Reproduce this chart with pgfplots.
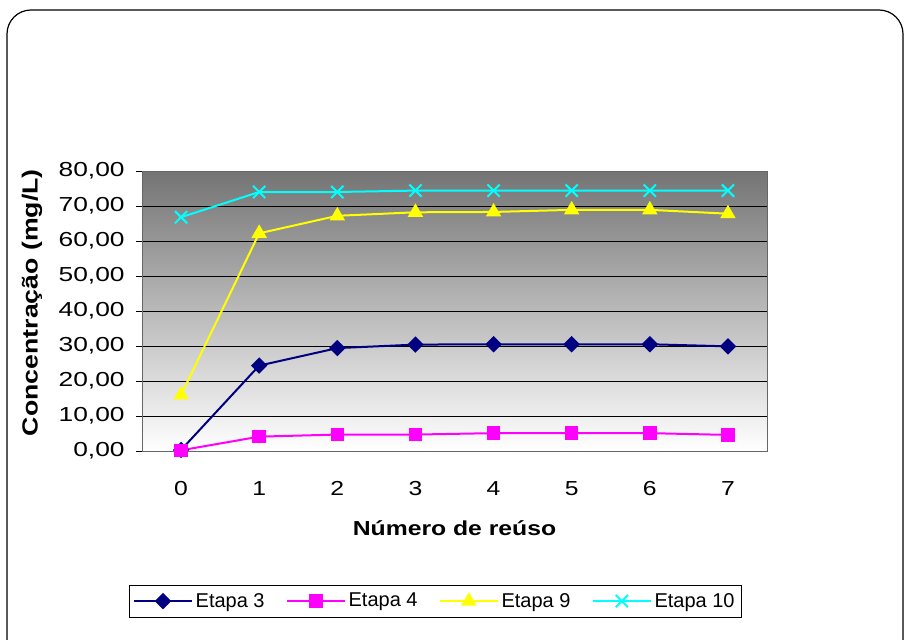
\documentclass[border=0pt]{standalone}
\usepackage{fontspec}
\setmainfont{Liberation Sans}[FakeStretch=1.22]
\newfontfamily\legfont{Liberation Sans}
\usepackage{pgfplots}
\pgfplotsset{compat=1.18}

\definecolor{etapaA}{RGB}{0,0,128}
\definecolor{etapaB}{RGB}{255,0,255}
\definecolor{etapaC}{RGB}{255,255,0}
\definecolor{etapaD}{RGB}{0,255,255}
\definecolor{bgtop}{RGB}{116,116,116}

\begin{document}
\begin{tikzpicture}
% page frame (1 px = 0.75 pt)
\useasboundingbox (0,0) rectangle (678.75pt,479.25pt);
\clip (0,0) rectangle (678.75pt,479.25pt);
\draw[line width=0.9pt, rounded corners=18pt] (5.25pt,471.75pt) rectangle (677.25pt,-20pt);

\begin{axis}[
  at={(106.5pt,141pt)}, anchor=south west,
  scale only axis, width=468.75pt, height=210pt,
  xmin=-0.5, xmax=7.5, ymin=0, ymax=80,
  ytick={0,10,...,80},
  xtick={0,...,7},
  clip=false,
  axis background/.style={shade, top color=bgtop, bottom color=white},
  axis line style={draw=black!60},
  ymajorgrids, grid style={black, line width=0.6pt},
  tick align=outside, tick pos=left,
  tick style={black, line width=0.6pt},
  major tick length=4.5pt,
  x tick style={draw=none},
  extra x ticks={-0.5,0.5,...,7.5},
  extra x tick labels={},
  extra x tick style={grid=none, major tick length=6pt, tick style={draw=black, line width=0.6pt}},
  /pgf/number format/assume math mode=true,
  font=\fontsize{15.2pt}{18pt}\selectfont,
  yticklabel style={xshift=-5pt, font=\addfontfeature{FakeStretch=1.3}\fontsize{15.2pt}{18pt}\selectfont,
    /pgf/number format/.cd, fixed, fixed zerofill, precision=2, use comma},
  xticklabel style={yshift=-15pt},
  xlabel={\bfseries Número de reúso},
  ylabel={\bfseries Concentração (mg/L)},
  xlabel style={at={(axis description cs:0.5,-0.275)}, anchor=center},
  ylabel style={at={(axis description cs:-0.176,0.53)}, anchor=center, rotate=0,
    font=\fontsize{16.4pt}{19pt}\selectfont},
  legend columns=4,
  legend style={at={(0.469,-0.536)}, anchor=center, draw=black, line width=0.6pt,
    font=\legfont\fontsize{15pt}{18pt}\selectfont,
    inner xsep=3pt, inner ysep=4pt,
    /tikz/every even column/.append style={column sep=14pt}},
  legend image code/.code={%
    \draw[mark repeat=2, mark phase=2, #1] plot coordinates {(0pt,0pt) (21.75pt,0pt) (43.5pt,0pt)};},
]
\addplot[etapaA, line width=1.5pt, mark=square*, mark size=3.6pt, mark options={rotate=45, solid}]
  coordinates {(0,0.3) (1,24.4) (2,29.4) (3,30.4) (4,30.5) (5,30.5) (6,30.5) (7,29.9)};
\addlegendentry{Etapa 3}
\addplot[etapaB, line width=1.5pt, mark=square*, mark size=4.3pt]
  coordinates {(0,0.2) (1,4.1) (2,4.7) (3,4.7) (4,5.1) (5,5.1) (6,5.1) (7,4.6)};
\addlegendentry{Etapa 4}
\addplot[etapaC, line width=1.5pt, mark=triangle*, mark size=5.2pt]
  coordinates {(0,16.0) (1,62.2) (2,67.2) (3,68.2) (4,68.3) (5,68.9) (6,68.9) (7,67.8)};
\addlegendentry{Etapa 9}
\addplot[etapaD, line width=1.5pt, mark=x, mark size=6.5pt]
  coordinates {(0,66.8) (1,74.0) (2,74.0) (3,74.4) (4,74.4) (5,74.4) (6,74.4) (7,74.4)};
\addlegendentry{Etapa 10}
\end{axis}
\end{tikzpicture}
\end{document}
